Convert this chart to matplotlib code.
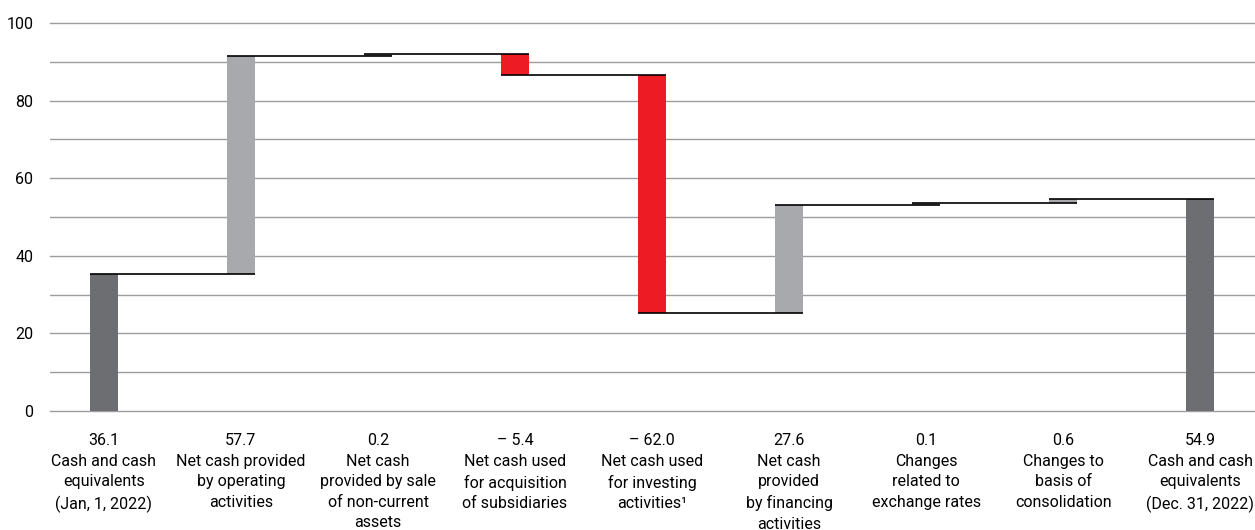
"""Cash flow waterfall chart."""

import matplotlib
matplotlib.use('Agg')
import matplotlib.pyplot as plt
from matplotlib.ticker import MultipleLocator

# Data.
categories = ['Cash and cash\nequivalents\n(Jan, 1, 2022)',
              'Net cash provided\nby operating\nactivities',
              'Net cash\nprovided by sale\nof non-current\nassets',
              'Net cash used\nfor acquisition\nof subsidiaries',
              'Net cash used\nfor investing\nactivities\u00b9',
              'Net cash\nprovided\nby financing\nactivities',
              'Changes\nrelated to\nexchange rates',
              'Changes to\nbasis of\nconsolidation',
              'Cash and cash\nequivalents\n(Dec. 31, 2022)']
# Printed values (labels).
value_labels = ['36.1', '57.7', '0.2', '\u2013 5.4', '\u2013 62.0',
                '27.6', '0.1', '0.6', '54.9']
# Bar steps as drawn in the chart.
bar_steps = [35.3, 56.1, 0.7, -5.5, -61.4, 27.8, 0.7, 1.0, 54.7]
is_total = [True, False, False, False, False, False, False, False, True]

# Colours.
DARK = '#6d6e71'
LIGHT = '#a7a9ac'
RED = '#ed1c24'

plt.rcParams['font.family'] = ['Roboto', 'DejaVu Sans']

fig = plt.figure(figsize=(12.55, 5.3), dpi=100)
ax = fig.add_axes([0.0398, 0.2245, 0.9602, 0.7321])

# Compute bar bottoms and ends.
bottoms = []
ends = []
level = 0.0
for v, tot in zip(bar_steps, is_total):
    if tot:
        bottoms.append(0.0)
        ends.append(v)
        level = v
    else:
        bottoms.append(level)
        level = level + v
        ends.append(level)

width = 0.2
for i, (v, tot) in enumerate(zip(bar_steps, is_total)):
    if tot:
        color = DARK
    elif v < 0:
        color = RED
    else:
        color = LIGHT
    ax.bar(i, ends[i] - bottoms[i], bottom=bottoms[i], width=width,
           color=color, zorder=2)

# Connector lines from bar i to bar i+1.
for i in range(len(bar_steps) - 1):
    ax.plot([i - width / 2, i + 1 + width / 2], [ends[i], ends[i]],
            color='black', linewidth=1.2, zorder=3,
            solid_capstyle='butt')

ax.set_xlim(-0.394, 8.40)
ax.set_ylim(0, 100)

# Grid every 10, labels every 20.
ax.yaxis.set_major_locator(MultipleLocator(20))
ax.yaxis.set_minor_locator(MultipleLocator(10))
ax.grid(axis='y', which='both', color='#9d9d9d', linewidth=1.0, zorder=0)
for gl in ax.get_ygridlines() + ax.yaxis.get_minorticklines():
    gl.set_clip_on(False)
ax.set_axisbelow(True)
for s in ax.spines.values():
    s.set_visible(False)
ax.tick_params(axis='y', which='both', length=0, pad=12, labelsize=11.5,
               labelcolor='black')
ax.set_xticks([])

# Category labels below bars.
for i, (lab, vl) in enumerate(zip(categories, value_labels)):
    ax.annotate(vl + '\n' + lab, xy=(i, 0), xycoords=('data', 'axes fraction'),
                xytext=(0, -16), textcoords='offset points',
                ha='center', va='top', fontsize=11.5, linespacing=1.46)

fig.savefig('out.png', dpi=100)
